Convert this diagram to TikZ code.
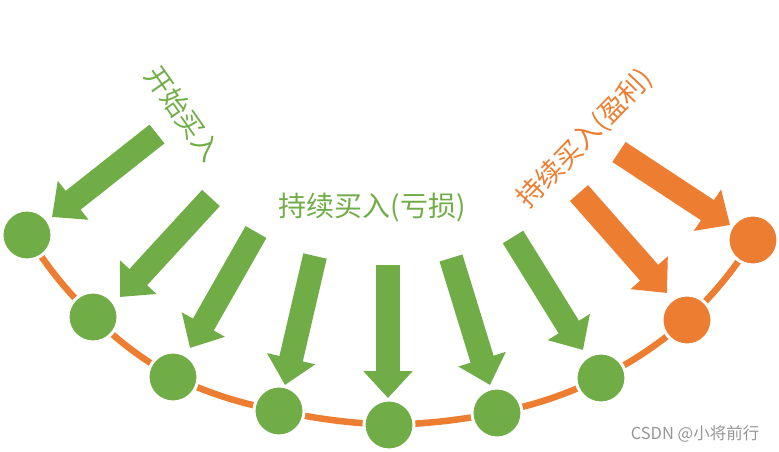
\documentclass[tikz,border=0pt]{standalone}
\usepackage{fontspec}
\newfontfamily\cjk{Noto Sans CJK SC}
\usetikzlibrary{arrows.meta}
\pgfdeclarelayer{background}
\pgfsetlayers{background,main}
\definecolor{gr}{RGB}{112,173,71}
\definecolor{og}{RGB}{237,125,49}
\definecolor{wm}{RGB}{150,150,150}
\begin{document}
\begin{tikzpicture}[x=1pt,y=-1pt,
  dot/.style={circle,minimum size=50pt,inner sep=0pt,line width=3pt,draw=white,fill=#1},
  blockarrow/.style={draw=#1,line width=24pt,-{Triangle[width=48pt,length=27pt]}},
  link/.style={draw=og,line width=6.5pt}]
\useasboundingbox (0,0) rectangle (779,452);
% circles
\node[dot=gr] (c1) at (27,235) {};
\node[dot=gr] (c2) at (93,317) {};
\node[dot=gr] (c3) at (173,377) {};
\node[dot=gr] (c4) at (279,411) {};
\node[dot=gr] (c5) at (389,425) {};
\node[dot=gr] (c6) at (497,413) {};
\node[dot=gr] (c7) at (601,378) {};
\node[dot=og] (c8) at (687,320) {};
\node[dot=og] (c9) at (753,240) {};
\begin{pgfonlayer}{background}
\draw[link] (c1.center) to[bend right=6] (c2.center) to[bend right=6] (c3.center)
  to[bend right=6] (c4.center) to[bend right=4] (c5.center) to[bend right=4] (c6.center)
  to[bend right=6] (c7.center) to[bend right=6] (c8.center) to[bend right=6] (c9.center);
\end{pgfonlayer}
% arrows
\coordinate (t1) at (157,134); \coordinate (h1) at (52,217);
\coordinate (t2) at (211,198); \coordinate (h2) at (120,297);
\coordinate (t3) at (256,232); \coordinate (h3) at (190,348);
\coordinate (t4) at (315,256); \coordinate (h4) at (285,385);
\coordinate (t5) at (388,265); \coordinate (h5) at (388,398);
\coordinate (t6) at (451,258); \coordinate (h6) at (490,385);
\coordinate (t7) at (513,237); \coordinate (h7) at (583,350);
\coordinate (t8) at (579,193); \coordinate (h8) at (667,293);
\coordinate (t9) at (619,152); \coordinate (h9) at (730,225);
\foreach \i in {1,...,7} {\draw[blockarrow=gr] (t\i) -- (h\i);}
\foreach \i in {8,9} {\draw[blockarrow=og] (t\i) -- (h\i);}
% labels
\node[text=gr,rotate=-55,font=\cjk\fontsize{27}{27}\selectfont] (l1) at (183,114) {开始买入};
\node[text=gr,font=\cjk\fontsize{28}{28}\selectfont] (l2) at (372,207) {持续买入(亏损)};
\node[text=og,rotate=46,font=\cjk\fontsize{27}{27}\selectfont] (l3) at (585,139) {持续买入(盈利)};
\node[text=wm,font=\cjk\fontsize{16.5}{16.5}\selectfont] (wm) at (695,434) {CSDN @小将前行};
\end{tikzpicture}
\end{document}
